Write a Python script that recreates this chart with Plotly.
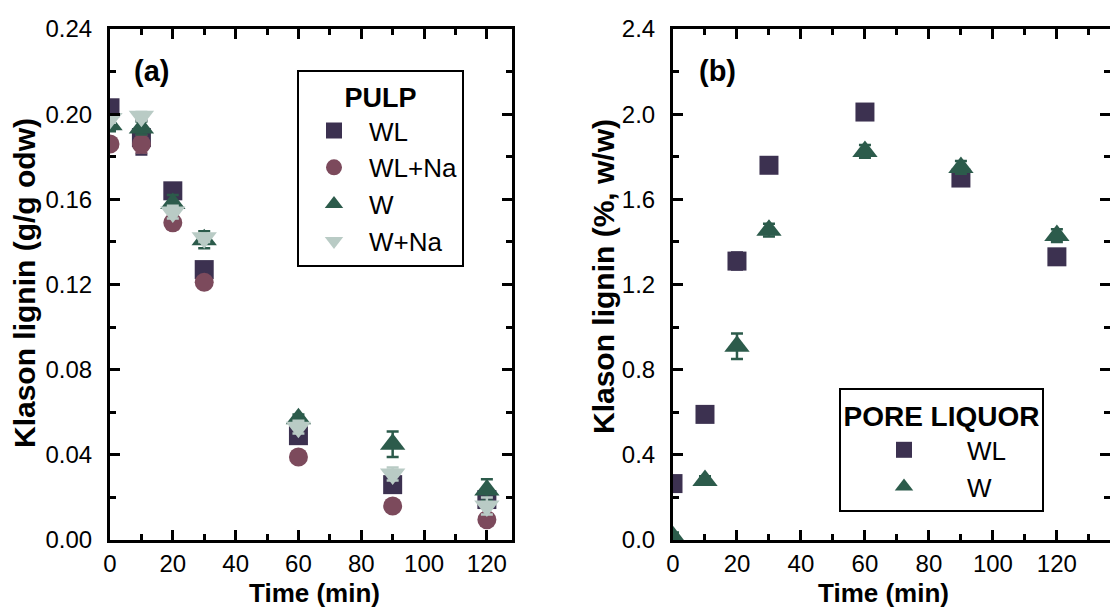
import plotly.graph_objects as go

# Sampling times (min)
time_min = [0, 10, 20, 30, 60, 90, 120]

# (a) Klason lignin in pulp (g/g odw)
pulp_wl = [0.203, 0.189, 0.164, 0.127, 0.049, 0.026, 0.019]
pulp_wl_err = [0.002, 0.008, 0.003, 0.003, 0.003, 0.003, 0.003]
pulp_wlna = [0.186, 0.186, 0.149, 0.121, 0.039, 0.016, 0.0095]
pulp_wlna_err = [0.002, 0.004, 0.003, 0.002, 0.002, 0.002, 0.002]
pulp_w = [0.195, 0.1935, 0.158, 0.141, 0.057, 0.045, 0.0235]
pulp_w_err = [0.003, 0.003, 0.004, 0.004, 0.002, 0.006, 0.005]
pulp_wna = [0.198, 0.199, 0.154, 0.142, 0.053, 0.031, 0.016]
pulp_wna_err = [0.002, 0.002, 0.003, 0.002, 0.003, 0.003, 0.004]

# (b) Klason lignin in pore liquor (%, w/w)
pore_wl = [0.265, 0.59, 1.31, 1.76, 2.01, 1.70, 1.33]
pore_wl_err = [0.02, 0.02, 0.04, 0.02, 0.02, 0.02, 0.02]
pore_w = [0.015, 0.28, 0.91, 1.455, 1.825, 1.75, 1.43]
pore_w_err = [0.02, 0.02, 0.06, 0.03, 0.03, 0.03, 0.03]

C_WL = "#3c3150"
C_WLNA = "#7c4a5c"
C_W = "#2c5b4b"
C_WNA = "#b9cbc5"

FONT = "Liberation Sans, Arial, sans-serif"

fig = go.Figure()


def add_series(x, y, err, name, symbol, size, color, xa, ya, legend):
    fig.add_trace(go.Scatter(
        x=x, y=y, mode="markers", name=name,
        marker=dict(symbol=symbol, size=size, color=color, line=dict(width=0)),
        error_y=dict(type="data", array=err, color=color, thickness=2.5, width=6),
        xaxis=xa, yaxis=ya, legend=legend, legendgroup=name + xa,
    ))


add_series(time_min, pulp_wl, pulp_wl_err, "WL", "square", 19, C_WL, "x", "y", "legend")
add_series(time_min, pulp_wlna, pulp_wlna_err, "WL+Na", "circle", 19, C_WLNA, "x", "y", "legend")
add_series(time_min, pulp_w, pulp_w_err, "W", "triangle-up", 22, C_W, "x", "y", "legend")
add_series(time_min, pulp_wna, pulp_wna_err, "W+Na", "triangle-down", 22, C_WNA, "x", "y", "legend")

add_series(time_min, pore_wl, pore_wl_err, "WL", "square", 19, C_WL, "x2", "y2", "legend2")
add_series(time_min, pore_w, pore_w_err, "W", "triangle-up", 22, C_W, "x2", "y2", "legend2")

W, H = 1110, 610
Y_DOM = [(H - 540) / H, (H - 29) / H]

axis_common = dict(
    showline=True, linewidth=3, linecolor="black", mirror="ticks",
    ticks="inside", ticklen=10, tickwidth=3, tickcolor="black",
    showgrid=False, zeroline=False, automargin=False,
    tickfont=dict(family=FONT, size=24, color="black"),
)

fig.update_layout(
    template="none",
    width=W, height=H,
    margin=dict(l=0, r=0, t=0, b=0, pad=0),
    paper_bgcolor="white", plot_bgcolor="white",
    showlegend=True,
    xaxis=dict(domain=[110 / W, 512 / W], range=[0, 128], tick0=0, dtick=20,
               minor=dict(ticks="inside", ticklen=6, tickwidth=3, dtick=10, tick0=0),
               anchor="y", ticklabelstandoff=0, **axis_common),
    yaxis=dict(domain=Y_DOM, range=[0, 0.24], tick0=0, dtick=0.04, tickformat=".2f",
               minor=dict(ticks="inside", ticklen=6, tickwidth=3, dtick=0.02, tick0=0),
               anchor="x", ticklabelstandoff=10, **axis_common),
    xaxis2=dict(domain=[673 / W, 1.0], range=[0, 136.6], tick0=0, dtick=20,
                minor=dict(ticks="inside", ticklen=6, tickwidth=3, dtick=10, tick0=0),
                anchor="y2", ticklabelstandoff=0, **axis_common),
    yaxis2=dict(domain=Y_DOM, range=[0, 2.4], tick0=0, dtick=0.4, tickformat=".1f",
                minor=dict(ticks="inside", ticklen=6, tickwidth=3, dtick=0.2, tick0=0),
                anchor="x2", ticklabelstandoff=10, **axis_common),
    legend=dict(
        x=297 / W, y=(H - 70) / H, xanchor="left", yanchor="top",
        bgcolor="white", bordercolor="black", borderwidth=2,
        font=dict(family=FONT, size=26, color="black"),
        title=dict(text="<b>PULP</b>", side="top center",
                   font=dict(family=FONT, size=27, color="black")),
        itemwidth=60, tracegroupgap=0,
    ),
    legend2=dict(
        x=839 / W, y=(H - 388) / H, xanchor="left", yanchor="top",
        bgcolor="white", bordercolor="black", borderwidth=2,
        font=dict(family=FONT, size=26, color="black"),
        title=dict(text="<b>PORE LIQUOR</b>", side="top center",
                   font=dict(family=FONT, size=28, color="black")),
        itemwidth=116, tracegroupgap=0,
    ),
)

annotations = [
    dict(text="<b>(a)</b>", x=133 / W, y=(H - 71) / H, xanchor="left", yanchor="middle",
         font=dict(size=29)),
    dict(text="<b>(b)</b>", x=698 / W, y=(H - 71) / H, xanchor="left", yanchor="middle",
         font=dict(size=29)),
    dict(text="<b>Time (min)</b>", x=314 / W, y=(H - 593) / H, xanchor="center", yanchor="middle",
         font=dict(size=26)),
    dict(text="<b>Time (min)</b>", x=883 / W, y=(H - 593) / H, xanchor="center", yanchor="middle",
         font=dict(size=26)),
    dict(text="<b>Klason lignin (g/g odw)</b>", x=24 / W, y=(H - 283) / H, textangle=-90,
         xanchor="center", yanchor="middle", font=dict(size=30)),
    dict(text="<b>Klason lignin (%, w/w)</b>", x=603 / W, y=(H - 277) / H, textangle=-90,
         xanchor="center", yanchor="middle", font=dict(size=30)),
]
for a in annotations:
    a.update(xref="paper", yref="paper", showarrow=False, borderpad=0)
    a["font"].update(family=FONT, color="black")
fig.update_layout(annotations=annotations)

fig.write_html("out.html")
